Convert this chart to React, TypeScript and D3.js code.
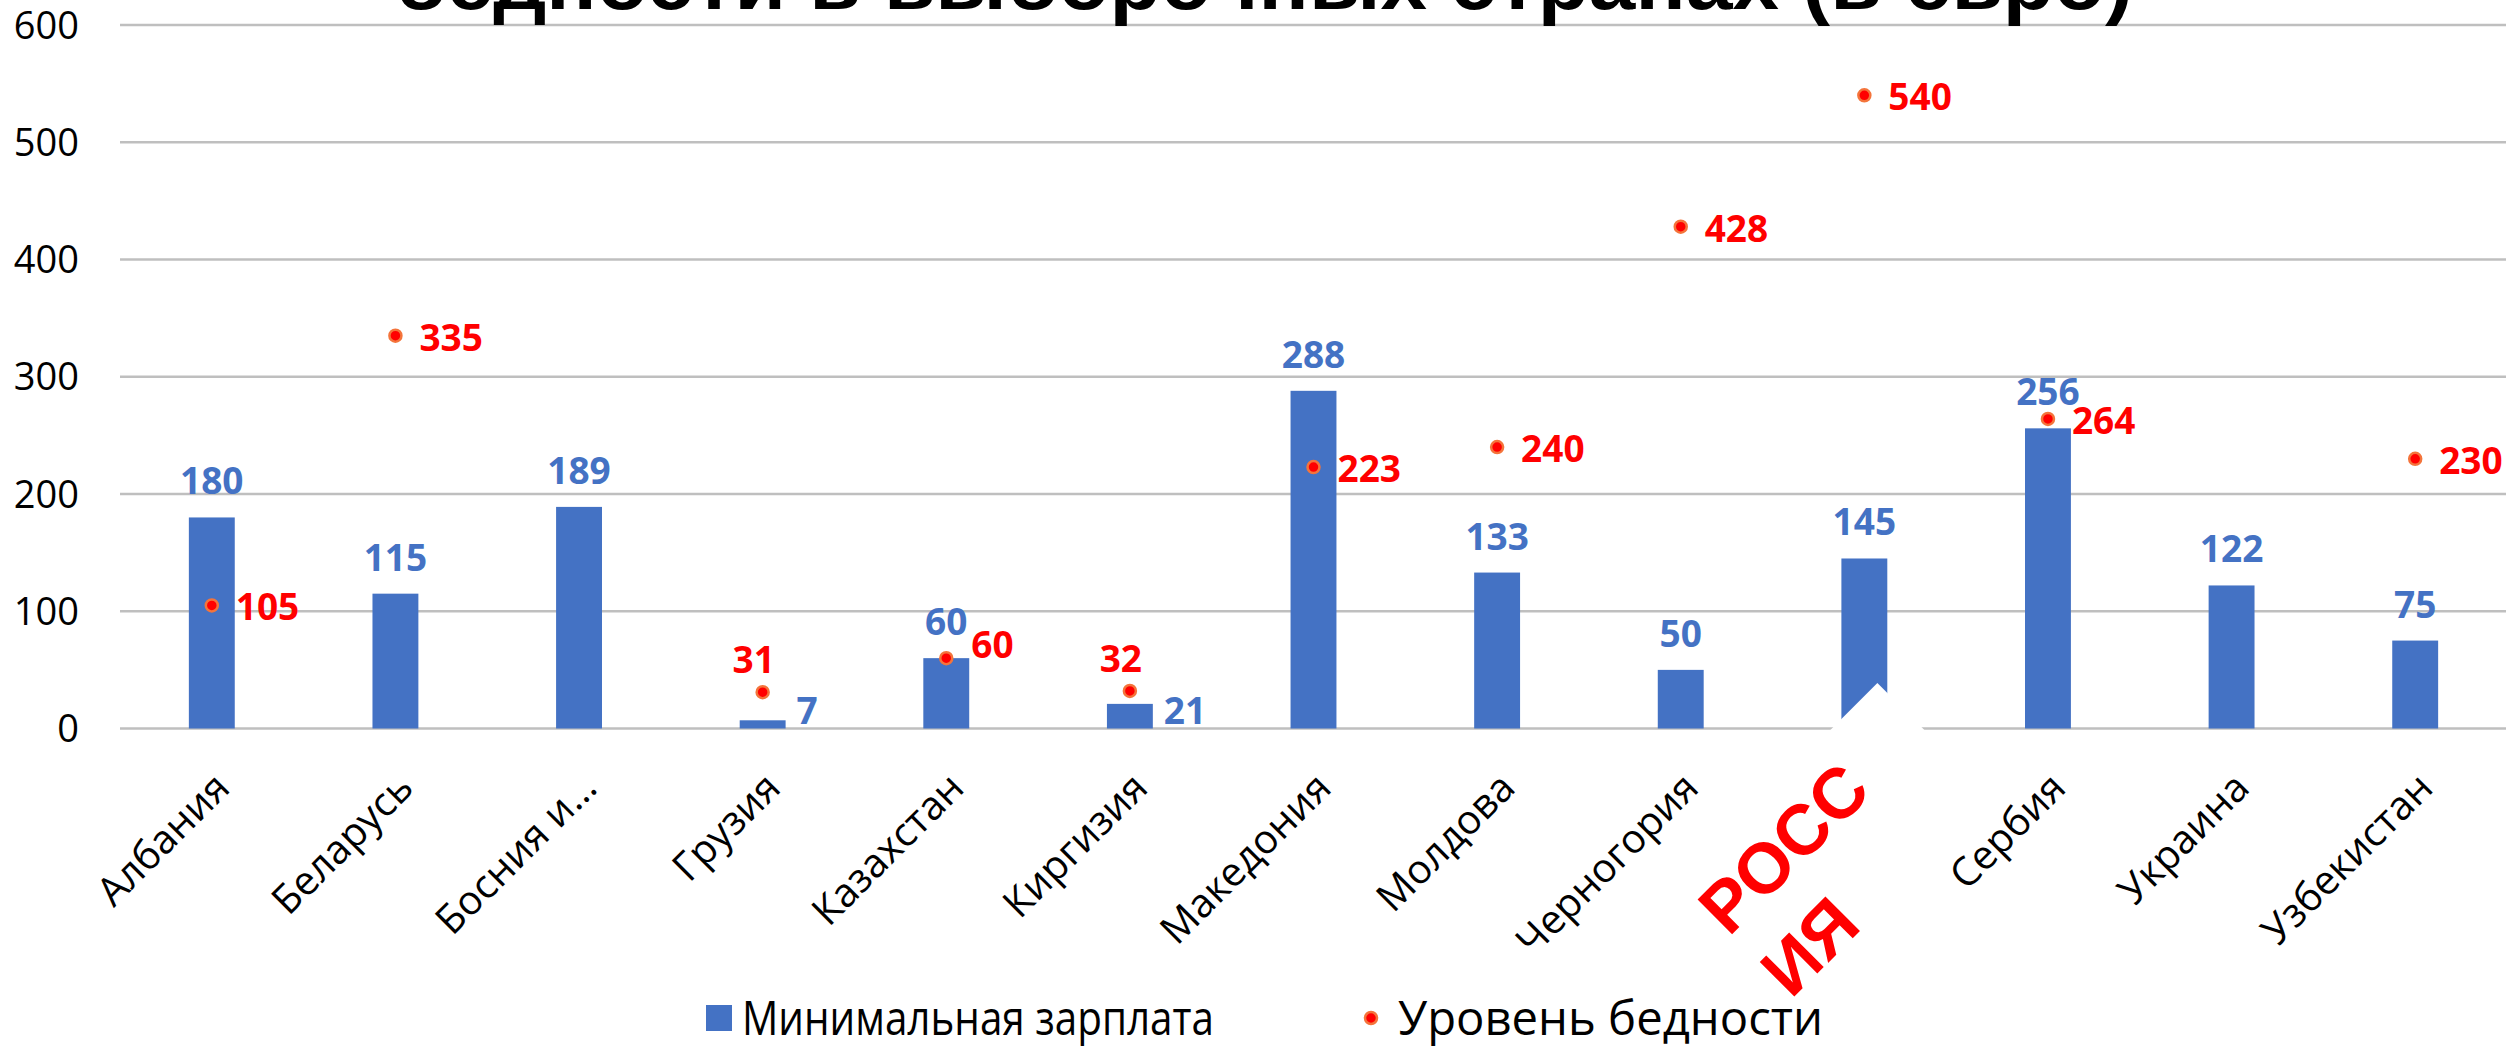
import React from "react";
import * as d3 from "d3";

const categories = [
  "Албания", "Беларусь", "Босния и…", "Грузия", "Казахстан", "Киргизия",
  "Македония", "Молдова", "Черногория", "Россия", "Сербия", "Украина", "Узбекистан",
];
const minWage = [180, 115, 189, 7, 60, 21, 288, 133, 50, 145, 256, 122, 75];
const poverty: (number | null)[] = [105, 335, null, 31, 60, 32, 223, 240, 428, 540, 264, null, 230];
// label placements
const wagePlacement = ["top", "top", "top", "right", "top", "right", "top", "top", "top", "top", "top", "top", "top"];
const povertyPlacement = ["right", "right", "right", "top", "rightUp", "top", "right", "right", "right", "right", "right", "right", "right"];
const yTicks = [0, 100, 200, 300, 400, 500, 600];
const seriesNames = ["Минимальная зарплата", "Уровень бедности"];
const titleLine = "бедности в выборочных странах (в евро)";
const highlightLines = ["РОСС", "ИЯ"];
const highlightCategory = "Россия";

const W = 2506;
const H = 1049;
const BLUE = "#4472C4";
const RED = "#FF0000";
const GRID = "#BFBFBF";
const FONT = "'Open Sans', 'Noto Sans', sans-serif";

export default function App() {
  const x = d3.scaleBand<string>().domain(categories).range([120, 2507]).paddingInner(0.75).paddingOuter(0.375);
  const y = d3.scaleLinear().domain([0, 600]).range([728.5, 25]);
  const bw = x.bandwidth();
  const cx = (c: string) => (x(c) as number) + bw / 2;
  const y0 = y(0);

  const hx = cx(highlightCategory) + 13;
  const hy = y0 - 45.5;

  return (
    <svg width={W} height={H} style={{ position: "absolute", left: 0, top: 0, background: "#fff" }}>
      <rect x={0} y={0} width={W} height={H} fill="#fff" />
      {/* gridlines */}
      {yTicks.map((t) => (
        <line key={t} x1={120} x2={W} y1={y(t)} y2={y(t)} stroke={GRID} strokeWidth={2.5} />
      ))}
      {/* y tick labels */}
      {yTicks.map((t) => (
        <text key={"yt" + t} x={79} y={y(t) + 13.5} textAnchor="end" fontFamily={FONT} fontSize={38} fill="#000">
          {t}
        </text>
      ))}
      {/* bars */}
      {categories.map((c, i) => (
        <rect key={"b" + c} x={x(c)} y={y(minWage[i])} width={bw} height={y0 - y(minWage[i])} fill={BLUE} />
      ))}
      {/* x labels */}
      {categories.map((c) => (
        <text
          key={"xl" + c}
          transform={`translate(${cx(c) + 20},790) rotate(-45)`}
          textAnchor="end"
          fontFamily={FONT}
          fontSize={40}
          fill="#000"
        >
          {c}
        </text>
      ))}
      {/* highlight box for Russia */}
      <g transform={`translate(${hx},${hy}) rotate(-45)`}>
        <rect x={-300} y={0} width={300} height={178} fill="#fff" />
        {highlightLines.map((l, k) => (
          <text
            key={l}
            x={-285}
            y={75 + k * 88}
            fontFamily="'Liberation Sans', Arial, sans-serif"
            fontWeight="bold"
            fontSize={71}
            fill={RED}
          >
            {l}
          </text>
        ))}
      </g>
      {/* poverty dots */}
      {categories.map((c, i) =>
        poverty[i] == null ? null : (
          <circle key={"d" + c} cx={cx(c)} cy={y(poverty[i] as number)} r={6} fill={RED} stroke="#F4743B" strokeWidth={2.5} />
        )
      )}
      {/* wage labels */}
      {categories.map((c, i) => {
        const p = wagePlacement[i];
        const props =
          p === "top"
            ? { x: cx(c), y: y(minWage[i]) - 23, textAnchor: "middle" as const }
            : { x: (x(c) as number) + bw + 11, y: y0 - 5, textAnchor: "start" as const };
        return (
          <text key={"wl" + c} {...props} fontFamily={FONT} fontWeight="bold" fontSize={37} fill={BLUE}>
            {minWage[i]}
          </text>
        );
      })}
      {/* poverty labels */}
      {categories.map((c, i) => {
        const v = poverty[i];
        if (v == null) return null;
        const p = povertyPlacement[i];
        const dy = y(v);
        const props =
          p === "top"
            ? { x: cx(c) - 9, y: dy - 19, textAnchor: "middle" as const }
            : p === "rightUp"
            ? { x: cx(c) + 25, y: dy, textAnchor: "start" as const }
            : { x: cx(c) + 24, y: dy + 15, textAnchor: "start" as const };
        return (
          <text key={"pl" + c} {...props} fontFamily={FONT} fontWeight="bold" fontSize={37} fill={RED}>
            {v}
          </text>
        );
      })}
      {/* legend */}
      <rect x={706} y={1005} width={26} height={26} fill={BLUE} />
      <text x={742} y={1035} fontFamily={FONT} fontSize={47} fill="#000" textLength={472} lengthAdjust="spacingAndGlyphs">
        {seriesNames[0]}
      </text>
      <circle cx={1371} cy={1018} r={6} fill={RED} stroke="#F4743B" strokeWidth={2.5} />
      <text x={1398} y={1035} fontFamily={FONT} fontSize={47} fill="#000" textLength={425} lengthAdjust="spacingAndGlyphs">
        {seriesNames[1]}
      </text>
      {/* title (only the lower line is visible) */}
      <text
        x={395}
        y={9}
        fontFamily="'Liberation Sans', Arial, sans-serif"
        fontWeight="bold"
        fontSize={80}
        fill="#000"
        textLength={1738}
        lengthAdjust="spacingAndGlyphs"
      >
        {titleLine}
      </text>
    </svg>
  );
}
